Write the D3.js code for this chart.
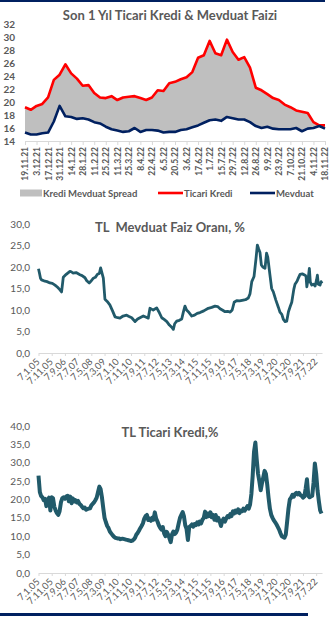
<!DOCTYPE html>
<html>
<head>
<meta charset="utf-8">
<script src="https://cdn.jsdelivr.net/npm/d3@7"></script>
<style>
body { margin: 0; background: #fff; }
svg { display: block; font-family: Lato, "Open Sans", sans-serif; }
</style>
</head>
<body>
<svg id="chart" width="336" height="618"></svg>
<script>
// --- son 1 yil, haftalik ---
var weekLabels = ["19.11.21","3.12.21","17.12.21","31.12.21","14.1.22","28.1.22","11.2.22","25.2.22","11.3.22",
  "25.3.22","8.4.22","22.4.22","6.5.22","20.5.22","3.6.22","17.6.22","1.7.22","15.7.22","29.7.22","12.8.22",
  "26.8.22","9.9.22","23.9.22","7.10.22","21.10.22","4.11.22","18.11.22"]
var krediWeekly = [19.2, 18.8, 19.4, 19.7, 20.7, 23.4, 24.2, 25.8, 24.4, 23.6, 22.5, 22.6, 21.4, 20.7,
  20.6, 20.9, 20.3, 20.7, 20.8, 20.9, 20.6, 20.3, 20.7, 21.8, 21.7, 22.9, 23.1, 23.5, 23.8, 24.6,
  26.8, 27.2, 29.4, 27.5, 27.2, 29.6, 27.7, 26.5, 26.9, 25.3, 22.2, 21.8, 21.2, 20.6, 20.3, 19.6,
  19.2, 18.7, 18.5, 18.3, 16.9, 16.4, 16.4]
var mevduatWeekly = [15.3, 15.0, 15.0, 15.2, 15.3, 17.0, 19.4, 17.8, 17.7, 17.4, 17.5, 17.3, 16.9, 16.7,
  16.2, 15.8, 15.6, 15.4, 15.5, 16.0, 15.4, 15.7, 15.7, 15.6, 15.3, 15.4, 15.4, 15.7, 15.8, 16.1,
  16.4, 16.8, 17.2, 17.3, 17.1, 17.7, 17.5, 17.3, 17.3, 16.9, 16.3, 16.0, 16.2, 15.9, 15.8, 15.8,
  15.8, 16.0, 15.5, 15.9, 16.0, 16.3, 15.9]
var weeklyTicks = [14, 16, 18, 20, 22, 24, 26, 28, 30, 32]

// --- TL mevduat faizi ---
var mevduatDates = ["2005-01-07","2005-01-31","2005-02-22","2005-03-19","2005-06-04","2005-07-22","2005-09-28",
  "2005-11-22","2006-01-22","2006-03-22","2006-05-07","2006-06-22","2006-07-13","2006-07-31","2006-10-07",
  "2006-12-31","2007-01-31","2007-03-10","2007-05-22","2007-08-19","2007-10-07","2007-12-13","2008-01-22",
  "2008-03-19","2008-05-07","2008-06-22","2008-08-07","2008-09-25","2008-11-07","2008-12-07","2008-12-28",
  "2009-02-07","2009-03-16","2009-05-07","2009-07-07","2009-09-07","2009-11-04","2010-01-07","2010-02-25",
  "2010-05-07","2010-07-28","2010-09-22","2010-11-22","2011-02-07","2011-04-07","2011-05-31","2011-08-16",
  "2011-10-22","2011-12-07","2012-01-16","2012-02-22","2012-03-31","2012-06-19","2012-08-07","2012-10-13",
  "2012-12-07","2013-02-07","2013-04-07","2013-05-31","2013-07-07","2013-08-07","2013-09-22","2013-11-22",
  "2014-01-16","2014-02-22","2014-03-31","2014-05-07","2014-06-16","2014-09-04","2014-11-07","2015-01-07",
  "2015-03-13","2015-06-07","2015-09-19","2015-12-07","2016-02-22","2016-04-22","2016-06-16","2016-08-07",
  "2016-10-10","2016-12-07","2017-02-04","2017-03-22","2017-05-07","2017-07-04","2017-09-07","2017-12-04",
  "2018-01-22","2018-03-28","2018-05-07","2018-06-16","2018-08-07","2018-09-22","2018-10-22","2018-11-22",
  "2018-12-22","2019-01-22","2019-02-25","2019-04-16","2019-05-22","2019-06-19","2019-08-10","2019-09-16",
  "2019-10-25","2019-12-22","2020-02-19","2020-03-25","2020-05-07","2020-06-13","2020-07-22","2020-08-28",
  "2020-10-07","2020-11-16","2020-12-22","2021-02-07","2021-03-07","2021-04-22","2021-05-22","2021-07-01",
  "2021-08-22","2021-10-25","2021-11-16","2021-12-04","2022-01-07","2022-01-31","2022-02-22","2022-03-28",
  "2022-05-07","2022-06-13","2022-07-16","2022-08-04","2022-08-25","2022-10-04","2022-10-28","2022-11-18"]
var mevduatRates = [19.6, 18.5, 17.4, 17.0, 16.7, 16.6, 16.3,
  16.2, 15.8, 15.3, 14.8, 14.2, 16.0, 17.6, 18.3,
  19.0, 18.9, 18.6, 18.7, 18.2, 18.0, 17.5, 16.8,
  16.3, 16.8, 17.4, 17.6, 18.3, 18.5, 19.8, 19.0,
  17.4, 12.5, 12.0, 11.2, 9.8, 8.4, 8.2, 8.1,
  8.6, 8.8, 8.5, 8.2, 7.3, 7.9, 8.2, 8.6,
  8.3, 8.1, 10.4, 10.2, 10.0, 10.5, 9.6, 8.2,
  7.8, 7.3, 6.5, 6.0, 5.5, 6.8, 7.4, 7.6,
  7.9, 9.5, 10.9, 10.0, 9.6, 8.6, 8.8, 9.2,
  9.4, 9.8, 10.4, 10.6, 10.9, 10.8, 10.3, 10.0,
  9.6, 9.7, 9.5, 10.0, 11.8, 12.2, 12.1, 12.3,
  12.4, 12.8, 13.8, 16.6, 17.8, 22.0, 25.1, 24.2,
  23.4, 20.5, 20.0, 19.7, 23.2, 22.3, 18.0, 15.0,
  14.2, 12.3, 10.6, 9.5, 9.0, 7.8, 7.3, 7.4,
  9.6, 10.8, 11.8, 14.8, 16.0, 16.7, 17.4, 18.3,
  18.4, 18.1, 17.8, 15.4, 17.5, 19.7, 16.5, 15.8,
  16.0, 15.6, 17.0, 18.1, 16.0, 15.8, 16.6, 16.2]
var mevduatTicks = [0, 5, 10, 15, 20, 25, 30]

// --- TL ticari kredi, aylik (7.1.05'ten) ---
var krediStart = "2005-01-07"
var krediRates = [
  26.5, 22.0, 21.0, 20.6, 19.8, 20.2, 18.2, 19.8, 20.5, 17.0, 20.6, 20.3,
  18.0, 17.0, 16.3, 15.8, 16.8, 19.2, 20.3, 20.6, 20.2, 20.8, 21.0, 19.5,
  20.8, 19.0, 20.3, 19.5, 19.8, 19.2, 19.6, 18.8, 18.5, 18.0, 17.6, 17.8,
  17.2, 17.4, 17.5, 17.6, 18.4, 18.8, 19.2, 19.8, 20.5, 22.0, 23.5, 22.8,
  20.5, 17.5, 15.0, 13.8, 12.8, 12.2, 11.3, 10.8, 10.3, 9.9, 9.6, 9.5,
  9.4, 9.4, 9.2, 9.3, 9.3, 9.2, 9.1, 9.0, 8.9, 8.8, 8.7, 8.8,
  9.1, 9.6, 10.4, 10.9, 11.5, 12.2, 12.8, 13.5, 14.8, 15.5, 15.8, 14.4,
  14.8, 14.2, 15.0, 14.5, 16.5, 14.8, 14.0, 13.0, 12.3, 11.8, 12.5, 10.8,
  10.0, 11.2, 10.5, 9.5, 8.4, 10.5, 11.3, 10.6, 11.0, 11.8, 13.5, 15.0,
  15.8, 16.6, 15.5, 13.0, 12.0, 9.0, 12.5, 12.8, 13.2, 12.6, 13.3, 13.0,
  13.8, 13.2, 14.0, 13.5, 14.5, 15.0, 16.7, 15.2, 16.2, 15.5, 16.5, 15.2,
  15.8, 14.5, 15.8, 14.3, 15.0, 14.0, 12.8, 14.2, 14.8, 14.0, 14.9, 15.5,
  15.2, 16.0, 15.5, 16.8, 16.2, 17.0, 16.5, 17.3, 16.3, 17.0, 16.8, 17.5,
  17.0, 17.6, 18.2, 17.5, 18.6, 21.5, 26.5, 33.0, 35.5, 31.0, 27.0, 25.0,
  22.5, 24.5, 26.0, 27.8, 27.0, 24.0, 20.5, 17.5, 15.8, 15.0, 14.3, 13.8,
  13.2, 12.5, 11.8, 10.8, 10.0, 9.8, 9.6, 10.5, 14.0, 17.5, 20.0, 20.5,
  21.3, 20.8, 21.5, 21.8, 21.4, 21.8, 21.2, 21.0, 20.5, 20.8, 23.0, 25.5,
  21.0, 20.6, 20.8, 21.0, 24.5, 29.8, 27.0, 22.5, 19.5, 17.0, 16.2]
var krediTicks = [0, 5, 10, 15, 20, 25, 30, 35, 40]

var longTickLabels = ["7.1.05","7.11.05","7.9.06","7.7.07","7.5.08","7.3.09","7.1.10","7.11.10","7.9.11",
  "7.7.12","7.5.13","7.3.14","7.1.15","7.11.15","7.9.16","7.7.17","7.5.18","7.3.19","7.1.20","7.11.20",
  "7.9.21","7.7.22"]

var grey = "#595959"
var teal = "#215a6a"
var navy = "#002060"
var parseIso = d3.timeParse("%Y-%m-%d")
var parseTick = d3.timeParse("%d.%m.%y")
var trFormat = d3.formatLocale({decimal: ",", thousands: ".", grouping: [3], currency: ["", ""]}).format(".1f")

var svg = d3.select("#chart")

// ust ve alt cizgiler
svg.append("rect").attr("x", 0).attr("y", 0).attr("width", 325).attr("height", 2).attr("fill", navy)
svg.append("rect").attr("x", 0).attr("y", 613).attr("width", 308).attr("height", 3).attr("fill", navy)

function styleAxis(g){
    g.attr("font-family", "Lato, 'Open Sans', sans-serif")
    g.select(".domain").attr("stroke", "#d9d9d9")
    g.selectAll(".tick line").attr("stroke", "#d9d9d9")
}

function title(txt, y){
    svg.append("text")
        .attr("x", 170).attr("y", y)
        .attr("text-anchor", "middle")
        .attr("font-size", 13).attr("font-weight", "bold")
        .attr("fill", grey)
        .style("white-space", "pre")
        .text(txt)
}

// ============ grafik 1 ============
title("Son 1 Yıl Ticari Kredi & Mevduat Faizi", 20)

var x1 = d3.scaleLinear().domain([0, krediWeekly.length - 1]).range([25, 325])
var y1 = d3.scaleLinear().domain([14, 32]).range([141, 24])

var spread = d3.area()
    .x(function(d, i){ return x1(i) })
    .y0(function(d, i){ return y1(mevduatWeekly[i]) })
    .y1(function(d){ return y1(d) })

svg.append("path").datum(krediWeekly)
    .attr("d", spread)
    .attr("fill", "#bfbfbf")

var weekLine = d3.line()
    .x(function(d, i){ return x1(i) })
    .y(function(d){ return y1(d) })

svg.append("path").datum(krediWeekly)
    .attr("d", weekLine)
    .attr("fill", "none").attr("stroke", "#ff0000").attr("stroke-width", 2.6)
    .attr("stroke-linejoin", "round")
svg.append("path").datum(mevduatWeekly)
    .attr("d", weekLine)
    .attr("fill", "none").attr("stroke", navy).attr("stroke-width", 2.6)
    .attr("stroke-linejoin", "round")

var ax1 = svg.append("g").attr("transform", "translate(0,141)")
    .call(d3.axisBottom(x1)
        .tickValues(d3.range(0, krediWeekly.length, 2))
        .tickSize(4).tickSizeOuter(0)
        .tickFormat(function(d){ return weekLabels[d / 2] }))
styleAxis(ax1)
ax1.selectAll("text")
    .attr("transform", "rotate(-90)")
    .attr("x", -6).attr("y", 0).attr("dy", "0.35em")
    .attr("text-anchor", "end")
    .attr("fill", grey).attr("font-size", 8.5).attr("font-weight", "bold")

svg.append("g").selectAll("text")
    .data(weeklyTicks)
    .enter().append("text")
    .attr("x", 15)
    .attr("y", function(d){ return y1(d) })
    .attr("dy", "0.35em")
    .attr("text-anchor", "end")
    .attr("font-size", 10).attr("font-weight", "bold")
    .attr("fill", grey)
    .text(function(d){ return d })

// legend
var lg = svg.append("g").attr("font-size", 9.5).attr("font-weight", "bold").attr("fill", grey)
lg.append("rect").attr("x", 20).attr("y", 189.5).attr("width", 22).attr("height", 7).attr("fill", "#bfbfbf")
lg.append("text").attr("x", 43).attr("y", 196.5).text("Kredi Mevduat Spread")
lg.append("line").attr("x1", 158).attr("x2", 183).attr("y1", 193).attr("y2", 193)
    .attr("stroke", "#ff0000").attr("stroke-width", 2.6)
lg.append("text").attr("x", 184).attr("y", 196.5).text("Ticari Kredi")
lg.append("line").attr("x1", 250).attr("x2", 275).attr("y1", 193).attr("y2", 193)
    .attr("stroke", navy).attr("stroke-width", 2.6)
lg.append("text").attr("x", 276).attr("y", 196.5).text("Mevduat")

// ============ uzun donem grafikleri ============
function longChart(opts){
    var x = d3.scaleTime()
        .domain([parseIso("2005-01-07"), parseIso("2022-11-18")])
        .range([38.5, 322])
    var y = d3.scaleLinear().domain(opts.domain).range([opts.bottom, opts.top])

    title(opts.title, opts.titleY)

    svg.append("g").selectAll("text")
        .data(opts.ticks)
        .enter().append("text")
        .attr("x", 30)
        .attr("y", function(d){ return y(d) })
        .attr("dy", "0.35em")
        .attr("text-anchor", "end")
        .attr("font-size", 10)
        .attr("fill", grey)
        .text(function(d){ return trFormat(d) })

    var ax = svg.append("g").attr("transform", "translate(0," + opts.bottom + ")")
        .call(d3.axisBottom(x)
            .tickValues(longTickLabels.map(function(t){ return parseTick(t) }))
            .tickSize(3).tickSizeOuter(0)
            .tickFormat(function(d, i){ return longTickLabels[i] }))
    styleAxis(ax)
    ax.selectAll("text")
        .attr("transform", "translate(-1,7) rotate(-45)")
        .attr("x", 0).attr("y", 0).attr("dy", "0.35em")
        .attr("text-anchor", "end")
        .attr("font-size", 9.5)
        .attr("fill", grey)

    var line = d3.line()
        .x(function(d){ return x(d.date) })
        .y(function(d){ return y(d.value) })

    svg.append("path").datum(opts.data)
        .attr("d", line)
        .attr("fill", "none")
        .attr("stroke", teal)
        .attr("stroke-width", opts.width)
        .attr("stroke-linejoin", "round")
}

var mevduatData = mevduatDates.map(function(d, i){
    return {date: parseIso(d), value: mevduatRates[i]}
})
var krediData = krediRates.map(function(v, i){
    return {date: d3.timeMonth.offset(parseIso(krediStart), i), value: v}
})

longChart({
    title: "TL  Mevduat Faiz Oranı, %", titleY: 232,
    domain: [0, 30], ticks: mevduatTicks,
    top: 224, bottom: 353,
    data: mevduatData, width: 2.8
})

longChart({
    title: "TL Ticari Kredi,%", titleY: 437,
    domain: [0, 40], ticks: krediTicks,
    top: 426, bottom: 573,
    data: krediData, width: 4
})
</script>
</body>
</html>
